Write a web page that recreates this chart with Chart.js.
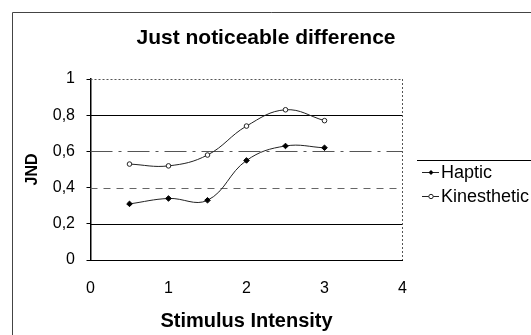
<!DOCTYPE html>
<html>
<head>
<meta charset="utf-8">
<script src="https://cdn.jsdelivr.net/npm/chart.js@4.4.1/dist/chart.umd.min.js"></script>
<style>
  html, body { margin: 0; padding: 0; background: #fff; }
  #wrap { width: 531px; height: 335px; position: relative; }
</style>
</head>
<body>
<div id="wrap"><canvas id="c" width="531" height="335"></canvas></div>
<script>
// ---- data ----
const chartTitle = 'Just noticeable difference';
const xTitle = 'Stimulus Intensity';
const yTitle = 'JND';
const stimulus = [0.5, 1, 1.5, 2, 2.5, 3];
const haptic = [0.31, 0.34, 0.33, 0.55, 0.63, 0.62];
const kinesthetic = [0.53, 0.52, 0.58, 0.74, 0.83, 0.77];
const seriesNames = ['Haptic', 'Kinesthetic'];
const yTickLabels = ['0', '0,2', '0,4', '0,6', '0,8', '1'];
const xTickLabels = ['0', '1', '2', '3', '4'];
const gridValues = [0.2, 0.4, 0.6, 0.8, 1];

// ---- styles ----
const FONT = "'Liberation Sans', Arial, Helvetica, sans-serif";
const gridStyles = {
  0.2: { color: '#000', dash: [], width: 1 },
  0.4: { color: '#666', dash: [7, 6], width: 1 },
  0.6: { color: '#555', dash: [22, 6, 3, 6], width: 1 },
  0.8: { color: '#000', dash: [], width: 1 },
  1:   { color: '#555', dash: [2, 2], width: 1 }
};

const toPts = (xs, ys) => xs.map((x, i) => ({ x: x, y: ys[i] }));

const decor = {
  id: 'decor',
  beforeDatasetsDraw(chart) {
    const { ctx, chartArea: a, scales } = chart;
    ctx.save();
    gridValues.forEach(v => {
      const s = gridStyles[v];
      const y = Math.round(scales.y.getPixelForValue(v)) + 0.5;
      ctx.beginPath();
      ctx.setLineDash(s.dash);
      ctx.strokeStyle = s.color;
      ctx.lineWidth = s.width;
      ctx.moveTo(a.left, y);
      ctx.lineTo(a.right, y);
      ctx.stroke();
    });
    // right dotted border
    ctx.beginPath();
    ctx.setLineDash([2, 2]);
    ctx.strokeStyle = '#555';
    const xr = Math.round(a.right) - 0.5;
    ctx.moveTo(xr, a.top);
    ctx.lineTo(xr, a.bottom);
    ctx.stroke();
    ctx.restore();
  },
  afterDraw(chart) {
    const { ctx } = chart;
    ctx.save();
    // outer frame
    ctx.strokeStyle = '#444';
    ctx.lineWidth = 1;
    ctx.setLineDash([]);
    ctx.beginPath();
    ctx.moveTo(12.5, 335);
    ctx.lineTo(12.5, 12.5);
    ctx.lineTo(531, 12.5);
    ctx.stroke();
    // chart title
    ctx.fillStyle = '#000';
    ctx.font = 'bold 21px ' + FONT;
    ctx.textAlign = 'center';
    ctx.textBaseline = 'middle';
    ctx.fillText(chartTitle, 266, 38);
    // legend
    ctx.beginPath();
    ctx.strokeStyle = '#000';
    ctx.moveTo(417, 160.5);
    ctx.lineTo(531, 160.5);
    ctx.stroke();
    const rows = [172, 196];
    ctx.font = '18px ' + FONT;
    ctx.textAlign = 'left';
    chart.data.datasets.forEach((ds, i) => {
      const y = rows[i] + 0.5;
      ctx.beginPath();
      ctx.strokeStyle = '#222';
      ctx.lineWidth = 1;
      ctx.moveTo(422, y);
      ctx.lineTo(439, y);
      ctx.stroke();
      ctx.beginPath();
      if (i === 0) {
        ctx.fillStyle = '#000';
        ctx.moveTo(431, y - 2.5); ctx.lineTo(433.5, y); ctx.lineTo(431, y + 2.5); ctx.lineTo(428.5, y);
        ctx.closePath(); ctx.fill();
      } else {
        ctx.fillStyle = '#fff';
        ctx.arc(431, y, 2.2, 0, Math.PI * 2);
        ctx.fill(); ctx.stroke();
      }
      ctx.fillStyle = '#000';
      ctx.fillText(ds.label, 441, rows[i] + 1);
    });
    ctx.restore();
  }
};

new Chart(document.getElementById('c'), {
  type: 'line',
  data: {
    datasets: [
      {
        label: seriesNames[0],
        data: toPts(stimulus, haptic),
        borderColor: '#222',
        borderWidth: 1,
        backgroundColor: '#000',
        pointStyle: 'rectRot',
        pointRadius: 2.8,
        pointBorderWidth: 1,
        pointBorderColor: '#000',
        pointBackgroundColor: '#000',
        tension: 0.4,
        fill: false
      },
      {
        label: seriesNames[1],
        data: toPts(stimulus, kinesthetic),
        borderColor: '#222',
        borderWidth: 1,
        backgroundColor: '#fff',
        pointStyle: 'circle',
        pointRadius: 2.3,
        pointBorderWidth: 1,
        pointBorderColor: '#222',
        pointBackgroundColor: '#fff',
        tension: 0.4,
        fill: false
      }
    ]
  },
  options: {
    responsive: false,
    animation: false,
    devicePixelRatio: 1,
    layout: { padding: { left: 12, right: 128.5, top: 79, bottom: 0 } },
    plugins: {
      legend: { display: false },
      title: { display: false },
      tooltip: { enabled: false }
    },
    scales: {
      x: {
        type: 'linear',
        min: 0, max: 4,
        afterFit(s) { s.height = 75; },
        ticks: {
          stepSize: 1,
          padding: 19.4,
          color: '#000',
          font: { family: FONT, size: 16 },
          callback: (v) => xTickLabels[Math.round(v)]
        },
        grid: { display: true, drawOnChartArea: false, drawTicks: false },
        border: { display: true, color: '#000', width: 1 },
        title: {
          display: true,
          text: xTitle,
          color: '#000',
          font: { family: FONT, size: 20, weight: 'bold' },
          padding: { top: 0, bottom: 2 }
        }
      },
      y: {
        type: 'linear',
        min: 0, max: 1,
        afterFit(s) { s.width = 78.5; },
        ticks: {
          stepSize: 0.2,
          padding: 11.5,
          color: '#000',
          font: { family: FONT, size: 16 },
          callback: (v) => yTickLabels[Math.round(v * 5)]
        },
        grid: { display: true, drawOnChartArea: false, drawTicks: true, tickLength: 4, tickColor: '#000' },
        border: { display: true, color: '#000', width: 1.5 },
        title: {
          display: true,
          text: yTitle,
          color: '#000',
          font: { family: FONT, size: 16, weight: 'bold' },
          padding: { top: 11.4, bottom: 0 }
        }
      }
    }
  },
  plugins: [decor]
});
</script>
</body>
</html>
